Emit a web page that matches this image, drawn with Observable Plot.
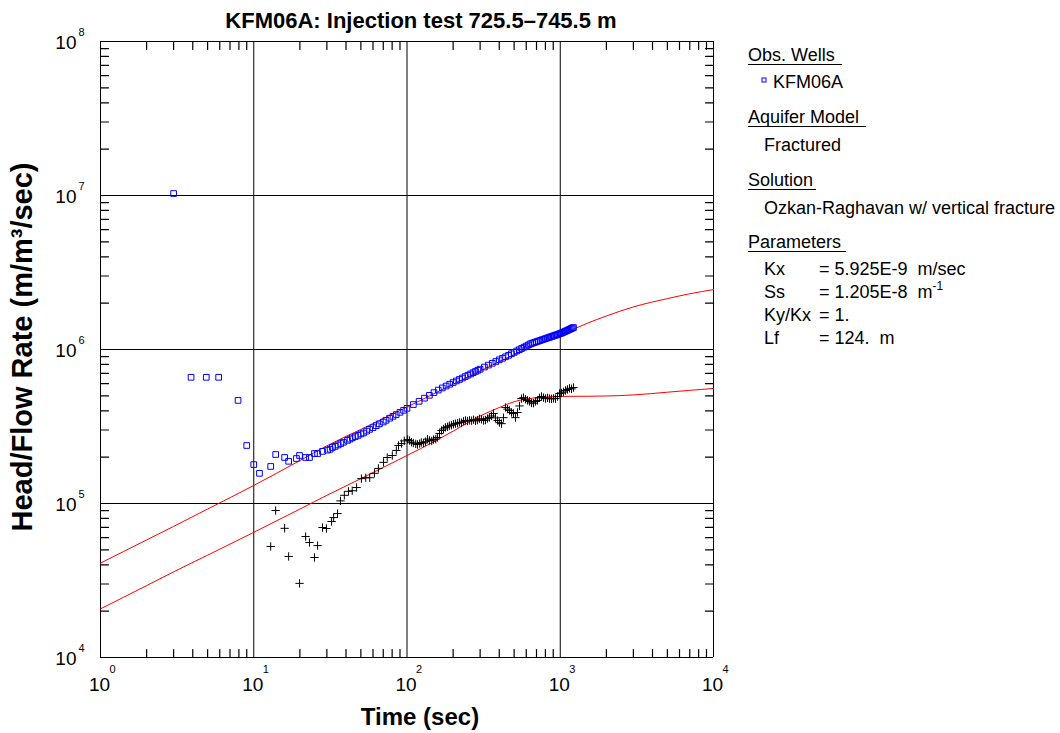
<!DOCTYPE html>
<html>
<head>
<meta charset="utf-8">
<script src="https://cdn.jsdelivr.net/npm/d3@7"></script>
<script src="https://cdn.jsdelivr.net/npm/@observablehq/plot@0.6"></script>
<style>
  body { margin: 0; background: #fff; }
  #wrap { position: relative; width: 1060px; height: 733px; }
  #wrap > * { position: absolute; left: 0; top: 0; margin: 0; }
</style>
</head>
<body>
<div id="wrap"></div>
<script>
// Observed head / flow rate at KFM06A (time in s, value in m/m3/sec)
const headTime = [3.0, 3.9, 4.9, 5.9, 7.9, 9.0, 10.0, 10.9, 12.9, 13.9, 15.9, 16.9, 19.0, 19.9, 21.8, 23.1, 24.9, 26.1, 28.1,
  30.3, 31.5, 32.6, 34, 35.5, 37, 38.5, 40.9, 42.5, 44, 46, 48, 50, 52, 54.5, 57, 60, 63, 66, 70, 73, 77, 81, 85, 90, 95,
  100, 110, 120, 130, 140, 150, 160, 170, 180, 190, 200, 210, 220, 230, 240, 250, 260, 270, 280, 290, 300,
  320, 340, 360, 380, 400, 420, 440, 460, 480, 500, 520, 540, 560, 580, 600, 620, 640, 660, 680, 700, 720, 740, 760,
  780, 800, 820, 840, 860, 880, 900, 920, 940, 960, 980, 1000, 1020, 1040, 1060, 1080, 1100, 1120, 1140, 1160, 1180,
  1200, 1220];
const headValue = [1.03e7, 6.6e5, 6.6e5, 6.6e5, 4.67e5, 2.38e5, 1.79e5, 1.57e5, 1.74e5, 2.08e5, 1.99e5, 1.88e5, 1.96e5, 2.05e5, 1.99e5, 1.99e5, 2.11e5, 2.11e5, 2.18e5,
  2.22e5, 2.25e5, 2.31e5, 2.35e5, 2.40e5, 2.45e5, 2.50e5, 2.57e5, 2.62e5, 2.67e5, 2.72e5, 2.77e5, 2.83e5, 2.87e5, 2.95e5, 3.03e5, 3.11e5, 3.20e5, 3.29e5, 3.38e5, 3.47e5, 3.58e5, 3.68e5, 3.78e5, 3.91e5, 4.03e5,
  4.15e5, 4.39e5, 4.61e5, 4.83e5, 5.04e5, 5.25e5, 5.45e5, 5.63e5, 5.79e5, 5.95e5, 6.10e5, 6.25e5, 6.39e5, 6.53e5, 6.67e5, 6.81e5, 6.94e5, 7.07e5, 7.20e5, 7.33e5, 7.45e5,
  7.69e5, 7.92e5, 8.14e5, 8.36e5, 8.57e5, 8.77e5, 8.97e5, 9.17e5, 9.38e5, 9.58e5, 9.78e5, 9.97e5, 1.016e6, 1.035e6, 1.053e6, 1.071e6, 1.09e6, 1.101e6, 1.113e6, 1.124e6, 1.135e6, 1.145e6, 1.156e6,
  1.166e6, 1.176e6, 1.186e6, 1.196e6, 1.205e6, 1.215e6, 1.224e6, 1.233e6, 1.242e6, 1.251e6, 1.260e6, 1.27e6, 1.279e6, 1.291e6, 1.302e6, 1.313e6, 1.324e6, 1.335e6, 1.346e6, 1.357e6, 1.368e6,
  1.379e6, 1.389e6];

// Derivative of the observed response
const derivTime = [12.9, 13.9, 15.9, 16.9, 19.9, 21.8, 23.1, 24.9, 26.1, 28.1, 29.8, 32.2, 33.2, 35.2, 36.8, 39.0, 41.5, 43.9, 46.9,
  50.4, 53.8, 57.1, 61.3, 65.1, 70.3, 74.3, 80.2, 85.2,
  88, 92, 96, 101, 104, 107, 110, 114, 117, 121, 124, 128, 132, 136, 140, 145, 149, 154, 158, 163, 168, 173, 178, 184,
  189, 195, 201, 207, 214, 220, 227, 234, 241, 248, 256, 264, 272, 280, 288, 297, 306, 316, 325, 335, 345, 356, 367,
  378, 390, 401, 414, 426, 439, 453, 466, 481, 495, 510, 526, 542, 559, 576, 593, 611, 630, 649, 669, 689, 710, 732,
  755, 778, 801, 826, 851, 877, 904, 931, 960, 989, 1019, 1050, 1082, 1115, 1149, 1184, 1220];
const derivValue = [5.26e4, 9.0e4, 6.9e4, 4.53e4, 3.03e4, 6.1e4, 5.58e4, 4.46e4, 5.33e4, 6.98e4, 6.88e4, 7.64e4, 8.1e4, 8.6e4, 1.04e5, 1.13e5, 1.2e5, 1.21e5, 1.27e5,
  1.45e5, 1.47e5, 1.47e5, 1.57e5, 1.69e5, 1.85e5, 1.99e5, 2.05e5, 2.21e5,
  2.38e5, 2.45e5, 2.55e5, 2.6e5, 2.56e5, 2.5e5, 2.47e5, 2.44e5, 2.42e5, 2.45e5, 2.49e5, 2.47e5, 2.52e5, 2.62e5, 2.57e5, 2.55e5, 2.6e5, 2.62e5, 2.68e5, 2.85e5, 2.98e5, 3.05e5, 3.12e5, 3.15e5,
  3.2e5, 3.22e5, 3.27e5, 3.3e5, 3.32e5, 3.36e5, 3.35e5, 3.42e5, 3.46e5, 3.43e5, 3.47e5, 3.45e5, 3.5e5, 3.44e5, 3.48e5, 3.55e5, 3.52e5, 3.46e5, 3.48e5, 3.56e5, 3.62e5, 3.7e5, 3.84e5,
  3.6e5, 3.46e5, 3.35e5, 3.3e5, 3.61e5, 4.2e5, 4.1e5, 4.02e5, 3.9e5, 3.84e5, 3.61e5, 3.9e5, 4.3e5, 4.8e5, 4.87e5, 4.75e5, 4.67e5, 4.6e5, 4.5e5, 4.48e5, 4.6e5, 4.67e5, 4.85e5,
  4.95e5, 4.87e5, 4.8e5, 4.85e5, 4.8e5, 4.78e5, 4.82e5, 4.8e5, 4.95e5, 5.18e5, 5.22e5, 5.3e5, 5.42e5, 5.5e5, 5.6e5, 5.55e5, 5.66e5];

// Ozkan-Raghavan type curve and its derivative
const modelTime = [1, 2, 3, 5, 10, 20, 30, 50, 100, 200, 300, 500, 1000, 1500, 2000, 3000, 5000, 7000, 10000];
const modelHead = [4.1e4, 5.8e4, 7.1e4, 9.2e4, 1.31e5, 1.9e5, 2.37e5, 3.03e5, 4.23e5, 5.95e5, 7.25e5, 9.25e5, 1.24e6, 1.48e6, 1.65e6, 1.89e6, 2.14e6, 2.30e6, 2.45e6];
const modelDerivTime = [1, 2, 3, 5, 10, 20, 30, 50, 100, 150, 200, 300, 400, 500, 600, 800, 1000, 1500, 2000, 3000, 5000, 7000, 10000];
const modelDeriv = [2.07e4, 2.93e4, 3.6e4, 4.62e4, 6.5e4, 9.2e4, 1.13e5, 1.45e5, 2.05e5, 2.52e5, 2.95e5, 3.7e5, 4.2e5, 4.58e5, 4.77e5, 4.92e5, 4.96e5, 4.97e5, 4.99e5, 5.07e5, 5.28e5, 5.43e5, 5.58e5];

// Axis decades and minor tick positions
const xDecades = [1, 10, 100, 1000, 10000];
const yDecades = [1e4, 1e5, 1e6, 1e7, 1e8];
const xMinor = [2, 3, 4, 5, 6, 7, 8, 9, 20, 30, 40, 50, 60, 70, 80, 90,
  200, 300, 400, 500, 600, 700, 800, 900, 2000, 3000, 4000, 5000, 6000, 7000, 8000, 9000];
const yMinor = [2e4, 3e4, 4e4, 5e4, 6e4, 7e4, 8e4, 9e4, 2e5, 3e5, 4e5, 5e5, 6e5, 7e5, 8e5, 9e5,
  2e6, 3e6, 4e6, 5e6, 6e6, 7e6, 8e6, 9e6, 2e7, 3e7, 4e7, 5e7, 6e7, 7e7, 8e7, 9e7];

const zip = (xs, ys) => xs.map((x, i) => ({x, y: ys[i]}));
const head = zip(headTime, headValue);
const deriv = zip(derivTime, derivValue);
const model = zip(modelTime, modelHead);
const modelD = zip(modelDerivTime, modelDeriv);

const FONT = "'Liberation Sans', Arial, Helvetica, sans-serif";
const xMin = xDecades[0], xMax = xDecades[xDecades.length - 1];
const yMin = yDecades[0], yMax = yDecades[yDecades.length - 1];

// frame geometry
const W = 1060, H = 733, ML = 100, MR = 347, MT = 41, MB = 76;
const TICK = 8; // minor tick length in px
const kx = Math.pow(xMax / xMin, TICK / (W - ML - MR));
const ky = Math.pow(yMax / yMin, TICK / (H - MT - MB));

// each minor tick as a two-point segment, keyed by id
const tickSegments = [];
xMinor.forEach((v, i) => {
  tickSegments.push({id: "b" + i, x: v, y: yMin}, {id: "b" + i, x: v, y: yMin * ky});
  tickSegments.push({id: "t" + i, x: v, y: yMax / ky}, {id: "t" + i, x: v, y: yMax});
});
yMinor.forEach((v, i) => {
  tickSegments.push({id: "l" + i, x: xMin, y: v}, {id: "l" + i, x: xMin * kx, y: v});
  tickSegments.push({id: "r" + i, x: xMax / kx, y: v}, {id: "r" + i, x: xMax, y: v});
});

const chart = Plot.plot({
  width: W,
  height: H,
  marginLeft: ML,
  marginRight: MR,
  marginTop: MT,
  marginBottom: MB,
  style: {fontFamily: FONT, background: "white", color: "black", overflow: "visible"},
  x: {type: "log", domain: [xMin, xMax], axis: null},
  y: {type: "log", domain: [yMin, yMax], axis: null},
  marks: [
    // decade grid (also forms the frame)
    Plot.ruleX(xDecades, {x: d => d, stroke: "black", strokeWidth: 1}),
    Plot.ruleY(yDecades, {y: d => d, stroke: "black", strokeWidth: 1}),
    // inward minor ticks on all four sides
    Plot.line(tickSegments, {x: "x", y: "y", z: "id", stroke: "black", strokeWidth: 1.2}),
    // tick labels 10^n
    Plot.text(xDecades, {x: d => d, y: yMin, text: () => "10", dy: 27, dx: -1, fontSize: 19, fill: "black"}),
    Plot.text(xDecades, {x: d => d, y: yMin, text: d => String(Math.round(Math.log10(d))), dy: 12, dx: 9, textAnchor: "start", fontSize: 11, fill: "black"}),
    Plot.text(yDecades, {x: xMin, y: d => d, text: () => "10", dx: -24, dy: 1, textAnchor: "end", fontSize: 19, fill: "black"}),
    Plot.text(yDecades, {x: xMin, y: d => d, text: d => String(Math.round(Math.log10(d))), dx: -22, dy: -9, textAnchor: "start", fontSize: 11, fill: "black"}),
    // model curves
    Plot.line(model, {x: "x", y: "y", stroke: "#ff0000", strokeWidth: 1, curve: "monotone-x"}),
    Plot.line(modelD, {x: "x", y: "y", stroke: "#ff0000", strokeWidth: 1, curve: "monotone-x"}),
    // observations
    Plot.dot(deriv, {x: "x", y: "y", symbol: "plus", r: 2.8, stroke: "black", strokeWidth: 1}),
    Plot.dot(head, {x: "x", y: "y", symbol: "square", r: 3.2, stroke: "#0000ff", fill: "none", strokeWidth: 1})
  ]
});
document.getElementById("wrap").appendChild(chart);

// Overlay: titles and the legend panel
const over = d3.select("#wrap").append("svg")
  .attr("width", W).attr("height", H)
  .style("font-family", FONT).style("pointer-events", "none");

over.append("text").attr("x", 421).attr("y", 28).attr("text-anchor", "middle")
  .attr("font-size", 22).attr("font-weight", "bold").text("KFM06A: Injection test 725.5–745.5 m");
over.append("text").attr("x", 420).attr("y", 725).attr("text-anchor", "middle")
  .attr("font-size", 24).attr("font-weight", "bold").text("Time (sec)");
over.append("text").attr("transform", "translate(32,347) rotate(-90)").attr("text-anchor", "middle")
  .attr("font-size", 29).attr("font-weight", "bold").text("Head/Flow Rate (m/m³/sec)");

const LS = 18;
const heading = (label, y, x2) => {
  over.append("text").attr("x", 748).attr("y", y).attr("font-size", LS).text(label);
  over.append("line").attr("x1", 748).attr("x2", x2).attr("y1", y + 3.5).attr("y2", y + 3.5)
    .attr("stroke", "black").attr("stroke-width", 1);
};
const item = (label, x, y) => over.append("text").attr("x", x).attr("y", y).attr("font-size", LS).text(label);

heading("Obs. Wells", 61, 842);
over.append("rect").attr("x", 762).attr("y", 78).attr("width", 4).attr("height", 4)
  .attr("fill", "none").attr("stroke", "#0000ff").attr("stroke-width", 1);
item("KFM06A", 773, 88);
heading("Aquifer Model", 123, 866);
item("Fractured", 764, 151);
heading("Solution", 186, 816);
item("Ozkan-Raghavan w/ vertical fracture", 764, 214);
heading("Parameters", 248, 846);

const params = [["Kx", "= 5.925E-9  m/sec", null], ["Ss", "= 1.205E-8  m", "-1"], ["Ky/Kx", "= 1.", null], ["Lf", "= 124.  m", null]];
params.forEach(([k, v, sup], i) => {
  const y = 275 + i * 23;
  item(k, 764, y);
  const t = over.append("text").attr("x", 819).attr("y", y).attr("font-size", LS).attr("xml:space", "preserve");
  t.append("tspan").text(v);
  if (sup) t.append("tspan").attr("dy", -8).attr("font-size", 12).text(sup);
});
</script>
</body>
</html>
